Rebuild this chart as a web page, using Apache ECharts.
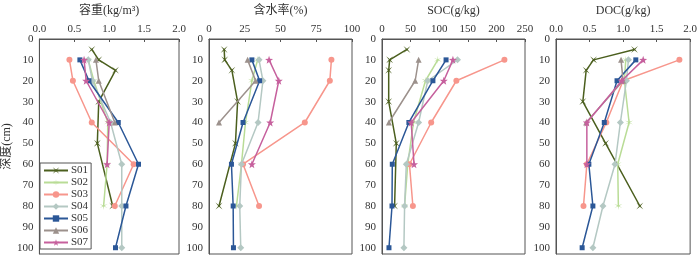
<!DOCTYPE html>
<html>
<head>
<meta charset="utf-8">
<script src="https://cdn.jsdelivr.net/npm/echarts@6/dist/echarts.min.js"></script>
<style>html,body{margin:0;padding:0;background:#fff}#c{width:700px;height:256px}</style>
</head>
<body>
<div id="c"></div>
<script>
// ---- data ----
const siteNames = ['S01','S02','S03','S04','S05','S06','S07'];
const depthS01 = [5, 10, 15, 30, 50, 80];
const depthStd = [10, 20, 40, 60, 80, 100];
const panelTitles = ['容重(kg/m³)', '含水率(%)', 'SOC(g/kg)', 'DOC(g/kg)'];
const axisMax = [2, 100, 250, 2];
const axisStep = [0.5, 25, 50, 0.5];
const depthTicks = [0, 10, 20, 30, 40, 50, 60, 70, 80, 90, 100];

// bulk density
const bdS01 = [0.75, 0.85, 1.09, 0.85, 0.83, 1.05];
const bdS02 = [0.70, 0.78, 0.98, 0.97, 0.92];
const bdS03 = [0.43, 0.48, 0.75, 1.35, 1.08];
const bdS04 = [0.70, 0.76, 1.02, 1.18, 1.18, 1.18];
const bdS05 = [0.58, 0.71, 1.13, 1.42, 1.24, 1.09];
const bdS06 = [0.81, 0.85, 1.08];
const bdS07 = [0.64, 0.67, 1.00, 0.97];
// water content
const wcS01 = [10.6, 11, 16, 20, 18.5, 7];
const wcS02 = [34, 30, 25.5, 22.7, 19.2];
const wcS03 = [85.6, 84.5, 67, 23.8, 35];
const wcS04 = [35, 37.7, 34.3, 22.7, 21.5, 22.2];
const wcS05 = [30, 35.4, 23.8, 15.7, 16.9, 17.1];
const wcS06 = [27, 32.6, 7];
const wcS07 = [42, 48.8, 42.8, 30];
// SOC
const socS01 = [43.6, 13.4, 11.7, 11.7, 25, 22];
const socS02 = [97.6, 76, 55, 45, 39.5];
const socS03 = [214, 130, 86, 48, 54];
const socS04 = [132, 80, 64, 42.5, 39.5, 38.3];
const socS05 = [112, 89, 47, 18, 17.5, 12.2];
const socS06 = [64, 58, 12];
const socS07 = [124, 108, 51, 56];
// DOC
const docS01 = [1.17, 0.56, 0.45, 0.40, 0.74, 1.25];
const docS02 = [1.04, 1.02, 1.09, 0.92, 0.93];
const docS03 = [1.84, 1.00, 0.75, 0.46, 0.41];
const docS04 = [1.08, 1.05, 0.96, 0.88, 0.70, 0.55];
const docS05 = [1.19, 0.91, 0.72, 0.49, 0.55, 0.39];
const docS06 = [0.97, 1.00, 0.45];
const docS07 = [1.30, 0.98, 0.46, 0.46];

const panels = [
  [bdS01, bdS02, bdS03, bdS04, bdS05, bdS06, bdS07],
  [wcS01, wcS02, wcS03, wcS04, wcS05, wcS06, wcS07],
  [socS01, socS02, socS03, socS04, socS05, socS06, socS07],
  [docS01, docS02, docS03, docS04, docS05, docS06, docS07]
];

// ---- styles ----
const colors = ['#4b5f1e', '#b9dc96', '#f7968c', '#b4c8c3', '#2b5797', '#9c918c', '#c6609d'];
function starPath(n, rOut, rIn, rot) {
  let d = '';
  for (let i = 0; i < 2 * n; i++) {
    const r = i % 2 === 0 ? rOut : rIn;
    const a = rot + i * Math.PI / n;
    const x = (10 + r * Math.sin(a)).toFixed(2), y = (10 - r * Math.cos(a)).toFixed(2);
    d += (i === 0 ? 'M' : 'L') + x + ',' + y + ' ';
  }
  return 'path://' + d + 'Z';
}
const symbols = [
  starPath(4, 10, 1.6, Math.PI / 4),
  starPath(6, 10, 1.8, 0),
  'circle',
  'diamond',
  'rect',
  'triangle',
  starPath(5, 10, 4, 0)
];
const symSizes = [7, 8, 6, 7, 5, 6, 8];
const FONT = '"Liberation Serif", "Times New Roman", "DejaVu Serif", "Noto Sans CJK SC", serif';
const gridLefts = [36, 209, 382, 556];

const grid = [], xAxis = [], yAxis = [], series = [];
for (let p = 0; p < 4; p++) {
  grid.push({left: gridLefts[p], top: 33, width: 143, height: 221, show: true, borderColor: '#555', borderWidth: 1, backgroundColor: 'transparent'});
  xAxis.push({
    type: 'value', gridIndex: p, position: 'top', min: 0, max: axisMax[p], interval: axisStep[p],
    name: panelTitles[p], nameLocation: 'middle', nameGap: 22,
    nameTextStyle: {fontFamily: FONT, fontSize: 12, color: '#333'},
    axisLine: {show: true, lineStyle: {color: '#555'}},
    axisTick: {show: true, inside: true, length: 3, lineStyle: {color: '#555'}},
    splitLine: {show: false},
    axisLabel: {fontFamily: FONT, fontSize: 11, color: '#333', margin: 4,
      formatter: v => axisStep[p] < 1 ? v.toFixed(1) : String(v)}
  });
  yAxis.push({
    type: 'value', gridIndex: p, inverse: true, min: 0, max: 103, interval: 10,
    name: p === 0 ? '深度(cm)' : '', nameLocation: 'middle', nameGap: 26,
    nameTextStyle: {fontFamily: FONT, fontSize: 12, color: '#333'},
    axisLine: {show: true, lineStyle: {color: '#555'}},
    axisTick: {show: false},
    splitLine: {show: false},
    axisLabel: {fontFamily: FONT, fontSize: 11, color: '#333', margin: 6, showMaxLabel: false,
      formatter: v => depthTicks.includes(v) ? String(v) : ''}
  });
  panels[p].forEach((vals, s) => {
    const depths = s === 0 ? depthS01 : depthStd;
    series.push({
      type: 'line', name: siteNames[s], xAxisIndex: p, yAxisIndex: p,
      data: vals.map((v, i) => [v, depths[i]]),
      symbol: symbols[s], symbolSize: symSizes[s], showSymbol: true,
      lineStyle: {color: colors[s], width: 1.5},
      itemStyle: {color: colors[s]},
      z: 2 + s, animation: false
    });
  });
}

const chart = echarts.init(document.getElementById('c'));
chart.setOption({
  animation: false,
  grid, xAxis, yAxis, series,
  legend: {
    data: siteNames, orient: 'vertical', left: 40, top: 163,
    backgroundColor: '#fff', borderColor: '#555', borderWidth: 1,
    padding: [2, 3, 1, 3], itemGap: 1, itemWidth: 24, itemHeight: 8,
    textStyle: {fontFamily: FONT, fontSize: 11, lineHeight: 11, color: '#333', padding: [0, 0, 0, -2]}
  }
});
</script>
</body>
</html>
